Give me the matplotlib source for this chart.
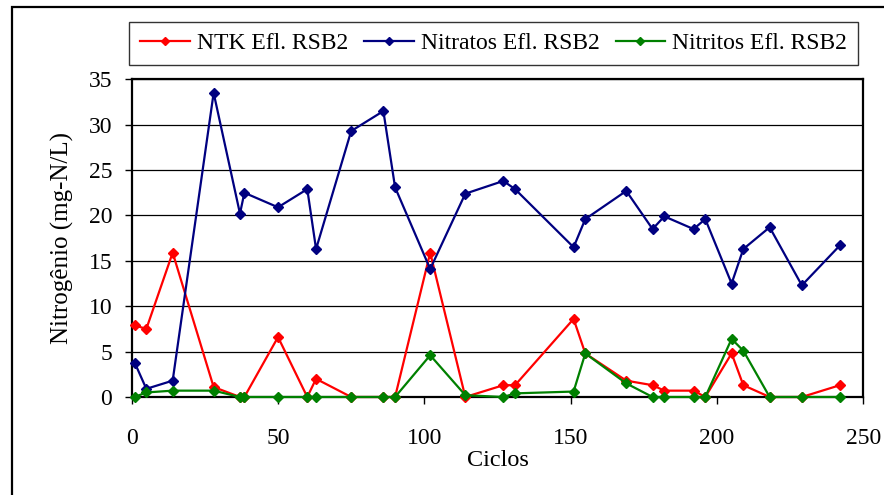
import matplotlib
matplotlib.use("Agg")
import matplotlib.pyplot as plt
from matplotlib.patches import Rectangle

plt.rcParams["font.family"] = ["Liberation Serif", "DejaVu Serif"]

# Cycle numbers (x) and nitrogen concentrations (mg-N/L)
ciclos = [1, 5, 14, 28, 37, 38.5, 50, 60, 63, 75, 86, 90, 102, 114, 127, 131,
          151, 155, 169, 178, 182, 192, 196, 205, 209, 218, 229, 242]

ntk = [7.9, 7.5, 15.9, 1.1, 0.0, 0.0, 6.6, 0.0, 2.0, 0.0, 0.0, 0.0, 15.9, 0.0,
       1.3, 1.3, 8.6, 4.8, 1.8, 1.3, 0.7, 0.7, 0.0, 4.8, 1.3, 0.0, 0.0, 1.3]

nitratos = [3.8, 0.9, 1.8, 33.5, 20.2, 22.5, 20.9, 22.9, 16.3, 29.3, 31.5, 23.1,
            14.1, 22.4, 23.8, 22.9, 16.5, 19.6, 22.7, 18.5, 19.9, 18.5, 19.6,
            12.5, 16.3, 18.7, 12.3, 16.7]

nitritos = [0.0, 0.5, 0.7, 0.7, 0.0, 0.0, 0.0, 0.0, 0.0, 0.0, 0.0, 0.0, 4.6, 0.2,
            0.0, 0.4, 0.6, 4.8, 1.5, 0.0, 0.0, 0.0, 0.0, 6.4, 5.1, 0.0, 0.0, 0.0]

series = [
    ("NTK Efl. RSB2", ntk, "#FF0000"),
    ("Nitratos Efl. RSB2", nitratos, "#000080"),
    ("Nitritos Efl. RSB2", nitritos, "#008000"),
]

x_ticks = [0, 50, 100, 150, 200, 250]
y_ticks = [0, 5, 10, 15, 20, 25, 30, 35]

fig = plt.figure(figsize=(8.84, 4.95), dpi=100)
fig.patch.set_facecolor("white")

# outer chart frame
fig.patches.append(Rectangle((12 / 884, -0.05), 1.2, 1 - 7 / 495 + 0.05,
                             transform=fig.transFigure, fill=False,
                             edgecolor="black", linewidth=1.6))

ax = fig.add_axes([131.7 / 884, 1 - 397 / 495, (863.3 - 131.7) / 884,
                   (397 - 79.3) / 495])

for label, values, color in series:
    ax.plot(ciclos, values, color=color, linewidth=1.6, marker="D",
            markersize=5.2, markerfacecolor=color, markeredgecolor=color,
            label=label, clip_on=False, zorder=3)

ax.set_xlim(0, 250)
ax.set_ylim(0, 35)
ax.set_xticks(x_ticks)
ax.set_yticks(y_ticks)
ax.yaxis.grid(True, color="black", linewidth=0.9)
ax.set_axisbelow(True)

for side in ["left", "right", "top", "bottom"]:
    ax.spines[side].set_linewidth(1.6)
    ax.spines[side].set_color("black")

ax.tick_params(axis="both", direction="out", length=5, width=1.0,
               labelsize=17, colors="black")
ax.tick_params(axis="y", pad=9)
ax.tick_params(axis="x", pad=17)

ax.set_xlabel("Ciclos", fontsize=17.5, labelpad=1)
ax.set_ylabel("Nitrogênio (mg-N/L)", fontsize=18, labelpad=10.5)

leg = fig.legend(loc="lower left",
                 bbox_to_anchor=(129.3 / 884, 1 - 65 / 495,
                                 (857.7 - 129.3) / 884, 46 / 495),
                 mode="expand", ncol=3, fontsize=17, frameon=True,
                 fancybox=False, edgecolor="black", handlelength=2.1,
                 handletextpad=0.3, borderaxespad=0, borderpad=0.45,
                 markerscale=0.7)
leg.get_frame().set_linewidth(1.0)

fig.savefig("out.png", dpi=100)
